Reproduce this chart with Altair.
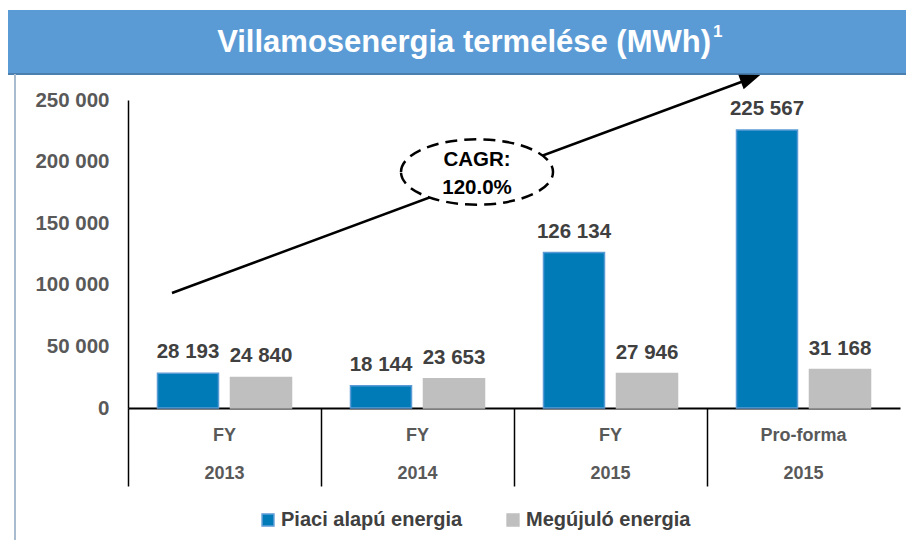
import altair as alt
import pandas as pd

# ---- data ----
periods = ["FY", "FY", "FY", "Pro-forma"]
years = ["2013", "2014", "2015", "2015"]
series = ["Piaci alapú energia", "Megújuló energia"]
piaci = [28193, 18144, 126134, 225567]
megujulo = [24840, 23653, 27946, 31168]
y_ticks = [0, 50000, 100000, 150000, 200000, 250000]
title_text = "Villamosenergia termelése (MWh)"
title_sup = "1"
cagr_text = "CAGR:\n120.0%"

BLUE = "#007BB8"
BLUE_EDGE = "#5B9BD5"
GREY = "#BFBFBF"
BAR_TXT = "#404040"
AX_TXT = "#595959"
SANS = "Liberation Sans, Arial, sans-serif"

cats = [f"{p}|{y}" for p, y in zip(periods, years)]

rows = []
for i, c in enumerate(cats):
    for s, vals in zip(series, [piaci, megujulo]):
        v = vals[i]
        rows.append({"cat": c, "series": s, "value": v,
                     "label": f"{v:,}".replace(",", " ")})
bars_df = pd.DataFrame(rows)
cat_df = pd.DataFrame({"cat": cats, "period": periods, "year": years})
one = pd.DataFrame({"a": [0]})

x_enc = alt.X("cat:N", sort=cats,
              scale=alt.Scale(paddingInner=0, paddingOuter=0),
              axis=alt.Axis(title=None, labels=False, ticks=True, tickSize=78,
                            tickColor="black", tickWidth=1.5, bandPosition=0,
                            domainColor="black", domainWidth=2, grid=False))
xoff = alt.XOffset("series:N", scale=alt.Scale(domain=series, paddingInner=0.164,
                                                paddingOuter=0.404))
y_enc = alt.Y("value:Q", scale=alt.Scale(domain=[0, 250000], nice=False),
              axis=alt.Axis(title=None, values=y_ticks, ticks=False, grid=False,
                            labelExpr="replace(format(datum.value, ','), regexp(',', 'g'), ' ')",
                            labelPadding=19, labelFont=SANS, labelFontSize=20.5,
                            labelFontWeight="bold", labelColor=AX_TXT,
                            domainColor="black", domainWidth=1.5))

legend_kw = dict(title=None, orient="none", legendX=130, legendY=410,
                 direction="horizontal", symbolType="square",
                 symbolSize=140, symbolStrokeWidth=1.5, labelFont=SANS,
                 labelFontSize=20, labelFontWeight="bold", labelColor=BAR_TXT,
                 columnPadding=40, labelOffset=3, labelLimit=0)

bars = alt.Chart(bars_df).mark_bar(strokeWidth=1.5).encode(
    x=x_enc, xOffset=xoff, y=y_enc,
    color=alt.Color("series:N", scale=alt.Scale(domain=series, range=[BLUE, GREY]),
                    legend=alt.Legend(**legend_kw)),
    stroke=alt.Stroke("series:N", scale=alt.Scale(domain=series, range=[BLUE_EDGE, GREY]),
                      legend=alt.Legend(**legend_kw)),
)

bar_labels = alt.Chart(bars_df).mark_text(
    font=SANS, fontSize=20.5, fontWeight="bold", color=BAR_TXT, dy=-15,
    baseline="alphabetic").encode(
    x=alt.X("cat:N", sort=cats), xOffset="series:N", y="value:Q", text="label:N")

cat_top = alt.Chart(cat_df).mark_text(
    font=SANS, fontSize=18, fontWeight="bold", color=AX_TXT, baseline="middle").encode(
    x=alt.X("cat:N", sort=cats), y=alt.value(336), text="period:N")
cat_bot = alt.Chart(cat_df).mark_text(
    font=SANS, fontSize=18, fontWeight="bold", color=AX_TXT, baseline="middle").encode(
    x=alt.X("cat:N", sort=cats), y=alt.value(374), text="year:N")

# ---- decorations ----
title_bar = alt.Chart(one).mark_rect(color="#5B9BD5").encode(
    x=alt.value(-120), x2=alt.value(790), y=alt.value(-90), y2=alt.value(-26))
title_line = alt.Chart(one).mark_rule(color="#4A7FB0", strokeWidth=2).encode(
    x=alt.value(-120), x2=alt.value(790), y=alt.value(-26))
frame_left = alt.Chart(one).mark_rule(color="#A9BCCF", strokeWidth=2).encode(
    x=alt.value(-113), y=alt.value(-26), y2=alt.value(450))
title = alt.Chart(one).mark_text(
    text=title_text, font=SANS, fontSize=31, fontWeight="bold", color="white",
    align="right", baseline="middle").encode(x=alt.value(583), y=alt.value(-57))
sup = alt.Chart(one).mark_text(
    text=title_sup, font=SANS, fontSize=17, fontWeight="bold", color="white",
    align="left", baseline="middle").encode(x=alt.value(585), y=alt.value(-68))

arrow_line = alt.Chart(one).mark_rule(color="black", strokeWidth=2.5).encode(
    x=alt.value(44), y=alt.value(193), x2=alt.value(624), y2=alt.value(-22))
arrow_head = alt.Chart(one).mark_point(
    shape="M0,-1L0.75,1L-0.75,1Z", size=420, filled=True, color="black",
    angle=69.7, opacity=1).encode(x=alt.value(622.6), y=alt.value(-21.5))
ellipse = alt.Chart(one).mark_point(
    shape="M-1,0A1,0.43 0 1,1 1,0A1,0.43 0 1,1 -1,0Z", size=23104, filled=False,
    fill="white", fillOpacity=1, stroke="black", strokeWidth=2.5,
    strokeDash=[12, 7], opacity=1).encode(x=alt.value(349), y=alt.value(72))
cagr = alt.Chart(one).mark_text(
    text=cagr_text, lineBreak="\n", font=SANS, fontSize=20.5, fontWeight="bold",
    color="black", align="center", baseline="middle", lineHeight=28).encode(
    x=alt.value(349), y=alt.value(60))

chart = alt.layer(
    title_bar, title_line, frame_left, title, sup,
    bars, bar_labels, cat_top, cat_bot,
    arrow_line, arrow_head, ellipse, cagr,
).properties(
    width=772, height=308,
    padding={"left": 120, "top": 92, "right": 6, "bottom": 132},
    autosize=alt.AutoSizeParams(type="none"),
).configure_view(stroke=None)

chart.save("out.html", embed_options={"renderer": "svg", "actions": False})
